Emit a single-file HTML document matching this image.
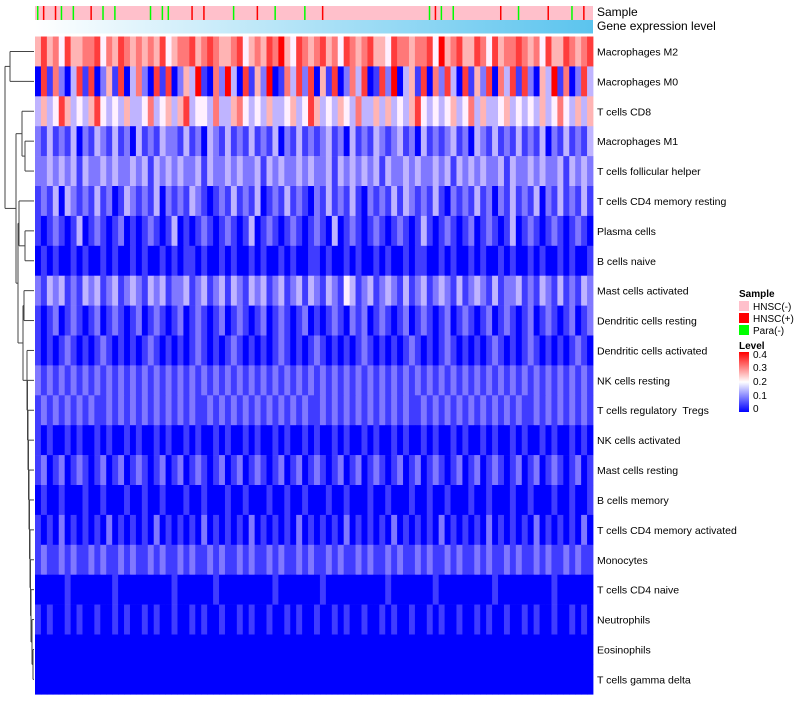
<!DOCTYPE html>
<html><head><meta charset="utf-8">
<style>
body{margin:0;background:#fff;width:800px;height:700px;overflow:hidden;font-family:"Liberation Sans",sans-serif;}
svg text{font-family:"Liberation Sans",sans-serif;white-space:pre;}
</style></head>
<body>
<svg id="chart" width="800" height="700" xmlns="http://www.w3.org/2000/svg">
<defs>
<linearGradient id="geneGrad" x1="0" x2="1" y1="0" y2="0">
<stop offset="0" stop-color="#ffffff"/><stop offset="1" stop-color="#5bc4ee"/>
</linearGradient>
<linearGradient id="levelGrad" x1="0" x2="0" y1="1" y2="0">
<stop offset="0" stop-color="#0000ff"/><stop offset="0.5" stop-color="#ffffff"/><stop offset="1" stop-color="#ff0000"/>
</linearGradient>
</defs>
<g id="dendro"></g>
<g id="anno"></g>
<g id="cells"></g>
<g id="labels"></g>
<g id="legend">
<text x="739" y="297" font-size="10" font-weight="bold">Sample</text>
<rect x="739" y="301" width="10" height="10" fill="#ffc0cb"/>
<text x="753" y="310" font-size="10">HNSC(-)</text>
<rect x="739" y="313" width="10" height="10" fill="#ff0000"/>
<text x="753" y="322" font-size="10">HNSC(+)</text>
<rect x="739" y="325" width="10" height="10" fill="#00ff00"/>
<text x="753" y="334" font-size="10">Para(-)</text>
<text x="739" y="349" font-size="10" font-weight="bold">Level</text>
<rect x="739" y="352" width="10" height="60" fill="url(#levelGrad)"/>
<text x="753" y="358" font-size="10">0.4</text>
<text x="753" y="371" font-size="10">0.3</text>
<text x="753" y="385" font-size="10">0.2</text>
<text x="753" y="399" font-size="10">0.1</text>
<text x="753" y="412" font-size="10">0</text>
</g>
</svg>
<script>
const rowNames = ["Macrophages M2","Macrophages M0","T cells CD8","Macrophages M1","T cells follicular helper","T cells CD4 memory resting","Plasma cells","B cells naive","Mast cells activated","Dendritic cells resting","Dendritic cells activated","NK cells resting","T cells regulatory  Tregs","NK cells activated","Mast cells resting","B cells memory","T cells CD4 memory activated","Monocytes","T cells CD4 naive","Neutrophils","Eosinophils","T cells gamma delta"];
// each digit d = level d*0.05
const rowLevels = [
"5756475566746576565657456675676556745657685476567564765675547665667485675576475667656475576567",
"0716203717025170362071702538106283071528016372705170263701728035170627307152706371720538160273",
"3534753435743435334634535734436335643435334534753435436335353435743434534635334534343534643535",
"2131213021321312031213221312032131213121302131212312031213212312031212312032131213121302131213",
"2232323132232322323132323223132232322313232232322313232323132232322323132323223132232322313232",
"1213032121312013212130212132101213121301213121021312131021213132121310212131202131213021312131",
"1012101301210120101210130101210121013012101210121030121012101210131012101201210130121012101210",
"0101001010010100101001010110100101001010010100110100101001010010110010100101001010010100101001",
"2132312132312312321323122312312313213231231231321321431231232131231232131232131223121321312132",
"1012012101201210120121012012101201210120121012010121021201210120121012012101201210120121012012",
"1010121010121010101210101012101012101010121010121010101210101012101012101010121010121010101210",
"2121212121212121212121212121212121212121212121212121212121212121212121212121212121212121212121",
"1212121212112121212121212121121212121212121212112121212121212121121212121212121212112121212121",
"1010010100101001010010100101001010010100101001010010100101001010010100101001010010100101001010",
"1201201210120120121012012012101201201210120120121012012012101201201210120120121012012012101201",
"0100100010010001001001000100100010010001001001000100100010010001001001000100100010010001001001",
"1010201010102010101020101010201010102010101020101010201010102010101020101010201010102010101020",
"1211212112121121211212112121121211212112121121211212112121121211212112121121211212112121121211",
"0000010000000100000000010000001000000000100000001000000000010000000100000000010000000001000000",
"1010010100100101001010010010100100101001001010010010100100101001001010010010100100101001001010",
"0000000000000000000000000000000000000000000000000000000000000000000000000000000000000000000000",
"0000000000000000000000000000000000000000000000000000000000000000000000000000000000000000000000"
];
// n = HNSC(-), p = HNSC(+), g = Para(-)
const sampleTypes = "gpnpgngnnpngngnnnnngnggnnnpnpnnnngnnnpnngnnnngnnpnnnnnnnnnnnnnnnnngpgngnnnnnnnpnngnnnnpnnngnpn";
const merges = [
[0,1,10],[3,4,25],[2,23,22],[6,7,25],[5,25,19],[8,9,24],
[20,21,33],[19,28,32],[18,29,31],[17,30,30.5],[16,31,30],[15,32,29.5],[14,33,29],[13,34,28.5],[12,35,28],[11,36,27.5],[10,37,27],
[27,38,23],[26,39,18],[24,40,16],[22,41,5]
];

const NS="http://www.w3.org/2000/svg";
const X0=35, X1=593, Y0=36.5, RH=29.9;
const yOf = i => Y0 + RH*i;
function col(v){ // v in 0..0.4
  v=Math.max(0,Math.min(0.4,v));
  if(v<=0.2){const t=v/0.2;return `rgb(${Math.round(255*t)},${Math.round(240*t)},255)`;}
  const t=(v-0.2)/0.2;return `rgb(255,${Math.round(240*(1-t))},${Math.round(240*(1-t))})`;
}
const cells=document.getElementById('cells');
rowLevels.forEach((s,r)=>{
  const w=(X1-X0)/s.length;
  for(let c=0;c<s.length;c++){
    const el=document.createElementNS(NS,'rect');
    el.setAttribute('x',(X0+c*w).toFixed(2));el.setAttribute('y',yOf(r).toFixed(2));
    el.setAttribute('width',(w+0.4).toFixed(2));el.setAttribute('height',(RH+0.3).toFixed(2));
    el.setAttribute('fill',col(+s[c]*0.05));
    
    
    cells.appendChild(el);
  }
});
const labels=document.getElementById('labels');
rowNames.forEach((n,r)=>{
  const t=document.createElementNS(NS,'text');
  t.setAttribute('x',597);t.setAttribute('y',(yOf(r)+RH/2+4).toFixed(1));
  t.setAttribute('font-size','10.5');t.textContent=n;
  
  
  labels.appendChild(t);
});
const anno=document.getElementById('anno');
const sc={n:'#ffc0cb',p:'#ff0000',g:'#00ff00'};
const sw=(X1-X0)/sampleTypes.length;
const bg=document.createElementNS(NS,'rect');
bg.setAttribute('x',X0);bg.setAttribute('y',6);bg.setAttribute('width',X1-X0);bg.setAttribute('height',14);bg.setAttribute('fill',sc.n);


anno.appendChild(bg);
for(let c=0;c<sampleTypes.length;c++){
  if(sampleTypes[c]==='n')continue;
  const el=document.createElementNS(NS,'rect');
  el.setAttribute('x',(X0+c*sw+sw/2-1).toFixed(2));el.setAttribute('y',6);el.setAttribute('width',1.5);el.setAttribute('height',14);
  el.setAttribute('fill',sc[sampleTypes[c]]);
  
  
  anno.appendChild(el);
}
const gb=document.createElementNS(NS,'rect');
gb.setAttribute('x',X0);gb.setAttribute('y',20);gb.setAttribute('width',X1-X0);gb.setAttribute('height',13.5);gb.setAttribute('fill','url(#geneGrad)');


anno.appendChild(gb);
[["Sample",16],["Gene expression level",30]].forEach(([t,y])=>{
  const e=document.createElementNS(NS,'text');e.setAttribute('x',597);e.setAttribute('y',y);e.setAttribute('font-size','12');e.textContent=t;
  
  
  anno.appendChild(e);
});
// dendrogram
const dg=document.getElementById('dendro');
const nodes=[];for(let i=0;i<rowNames.length;i++)nodes.push({y:yOf(i)+RH/2,x:34});
function line(x1,y1,x2,y2){const l=document.createElementNS(NS,'line');l.setAttribute('x1',x1);l.setAttribute('y1',y1);l.setAttribute('x2',x2);l.setAttribute('y2',y2);l.setAttribute('stroke','#444');l.setAttribute('stroke-width','1');


dg.appendChild(l);}
merges.forEach(([a,b,h])=>{
  const A=nodes[a],B=nodes[b];
  line(A.x,A.y,h,A.y);line(B.x,B.y,h,B.y);line(h,A.y,h,B.y);
  nodes.push({x:h,y:(A.y+B.y)/2});
});
</script>
</body></html>
